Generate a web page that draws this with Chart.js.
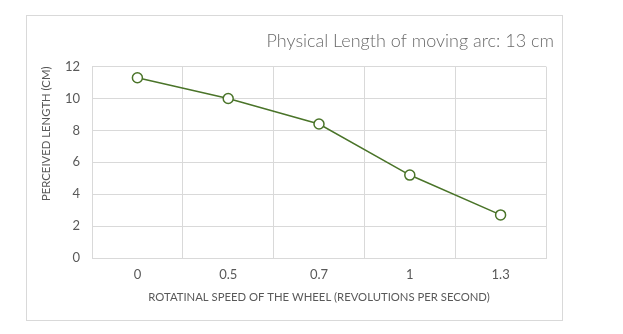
<!DOCTYPE html>
<html>
<head>
<meta charset="utf-8">
<script src="https://cdn.jsdelivr.net/npm/chart.js@4"></script>
<style>
  html, body { margin: 0; padding: 0; background: #ffffff; }
  #frame { position: absolute; left: 26px; top: 15px; width: 537px; height: 306px; box-sizing: border-box; border: 1px solid #d9d9d9; background: #fff; }
  #c { position: absolute; left: 0; top: 0; }
</style>
</head>
<body>
<div id="frame"><canvas id="c" width="535" height="304"></canvas></div>
<script>
const categories = ["0", "0.5", "0.7", "1", "1.3"];
const perceivedLength = [11.3, 10.0, 8.4, 5.2, 2.7];
const yTicks = [0, 2, 4, 6, 8, 10, 12];
const chartTitle = "Physical Length of moving arc: 13 cm";
const xTitle = "ROTATINAL SPEED OF THE WHEEL (REVOLUTIONS PER SECOND)";
const yTitle = "PERCEIVED LENGTH (CM)";

const FONT = "Lato, 'Open Sans', sans-serif";
const TEXT = "#595959";
const GRID = "#d9d9d9";

new Chart(document.getElementById("c"), {
  type: "line",
  data: {
    labels: categories,
    datasets: [{
      label: "Perceived length",
      data: perceivedLength,
      borderColor: "#4a7429",
      borderWidth: 1.5,
      backgroundColor: "#ffffff",
      pointBackgroundColor: "#ffffff",
      pointBorderColor: "#4a7429",
      pointBorderWidth: 1.5,
      pointRadius: 5,
      tension: 0,
      fill: false
    }]
  },
  options: {
    responsive: false,
    animation: false,
    layout: { padding: { left: 0, right: 8, top: 14, bottom: 0 } },
    plugins: {
      legend: { display: false },
      tooltip: { enabled: false },
      title: {
        display: true,
        text: chartTitle,
        align: "end",
        color: "#6a6a6a",
        font: { family: FONT, size: 18, weight: 300 },
        padding: { top: 0, bottom: 15 }
      }
    },
    scales: {
      x: {
        type: "category",
        offset: true,
        grid: { color: GRID, offset: true, drawTicks: false },
        border: { color: GRID },
        ticks: { color: TEXT, font: { family: FONT, size: 13 }, padding: 9 },
        title: { display: true, text: xTitle, color: TEXT, font: { family: FONT, size: 11.3 }, padding: { top: 6, bottom: 16 } },
        afterFit: (s) => { s.height = 62; }
      },
      y: {
        min: 0, max: 12,
        afterBuildTicks: (s) => { s.ticks = yTicks.map(v => ({ value: v })); },
        grid: { color: GRID, drawTicks: false },
        border: { color: GRID },
        ticks: { color: TEXT, font: { family: FONT, size: 13 }, padding: 12 },
        title: { display: true, text: yTitle, align: "end", color: TEXT, font: { family: FONT, size: 11.3 }, padding: { top: 13, bottom: 0 } },
        afterFit: (s) => { s.width = 65; }
      },
      y2: {
        position: "right",
        display: true,
        grid: { display: false },
        border: { display: false },
        ticks: { display: false },
        afterFit: (s) => { s.width = 8; }
      }
    }
  }
});
</script>
</body>
</html>
